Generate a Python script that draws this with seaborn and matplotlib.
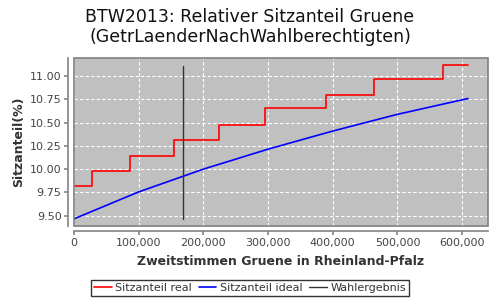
import matplotlib
matplotlib.use("Agg")
import matplotlib.pyplot as plt
import seaborn as sns
import pandas as pd
from matplotlib.ticker import FuncFormatter, MultipleLocator
from matplotlib.patches import Rectangle

# Data
real_x = [0, 28300, 86600, 154000, 223600, 296000, 389000, 463000, 571000, 609000]
real_y = [9.815, 9.985, 10.145, 10.315, 10.48, 10.655, 10.795, 10.97, 11.12, 11.12]
ideal_x = [0, 100000, 200000, 300000, 400000, 500000, 609000]
ideal_y = [9.465, 9.755, 10.0, 10.215, 10.41, 10.59, 10.76]
result_x = [169000, 169000]
result_y = [9.465, 11.115]

title = "BTW2013: Relativer Sitzanteil Gruene\n(GetrLaenderNachWahlberechtigten)"
xlabel = "Zweitstimmen Gruene in Rheinland-Pfalz"
ylabel = "Sitzanteil(%)"
labels = ["Sitzanteil real", "Sitzanteil ideal", "Wahlergebnis"]

sns.set_theme(style="white")
plt.rcParams['font.family'] = ['DejaVu Sans']

fig = plt.figure(figsize=(5, 3), dpi=100)
ax = fig.add_axes([0.148, 0.247, 0.828, 0.559])
ax.set_facecolor("#c0c0c0")

df_real = pd.DataFrame({"x": real_x, "y": real_y})
df_ideal = pd.DataFrame({"x": ideal_x, "y": ideal_y})
df_res = pd.DataFrame({"x": result_x, "y": result_y})

ax.step(df_real["x"], df_real["y"], where="post", color="red", lw=1.2, label=labels[0])
sns.lineplot(data=df_ideal, x="x", y="y", ax=ax, color="blue", lw=1.2, label=labels[1])
sns.lineplot(data=df_res, x="x", y="y", ax=ax, color="#333333", lw=1.0, label=labels[2],
             estimator=None, sort=False)

ax.set_xlim(0, 640000)
ax.set_ylim(9.389, 11.194)
ax.xaxis.set_major_locator(MultipleLocator(100000))
ax.yaxis.set_major_locator(MultipleLocator(0.25))
ax.xaxis.set_major_formatter(FuncFormatter(lambda v, p: f"{int(v):,}"))
ax.yaxis.set_major_formatter(FuncFormatter(lambda v, p: f"{v:.2f}"))
ax.grid(True, color="white", linestyle=(0, (3, 2)), lw=0.8)

for s in ["top", "right"]:
    ax.spines[s].set_visible(False)
for s in ["left", "bottom"]:
    ax.spines[s].set_position(("outward", 4))
    ax.spines[s].set_color("#888888")
ax.add_patch(Rectangle((0, 0), 1, 1, transform=ax.transAxes, fill=False,
                       edgecolor="#808080", lw=1.2, clip_on=False, zorder=5))

ax.tick_params(axis="both", which="major", labelsize=8, labelcolor="#444444",
               color="#888888", length=3, direction="out", bottom=True, left=True, pad=2)
ax.set_xlabel(xlabel, fontsize=9, fontweight="bold", color="#333333", labelpad=5)
ax.set_ylabel(ylabel, fontsize=9, fontweight="bold", color="#333333", labelpad=3)
fig.suptitle(title, fontsize=12.5, y=0.975, color="#111111", linespacing=1.2)

ax.legend().remove()
handles, lbls = ax.get_legend_handles_labels()
leg = fig.legend(handles, lbls, loc="center", bbox_to_anchor=(0.5, 0.04), ncol=3,
                 fontsize=8, frameon=True, fancybox=False, edgecolor="black",
                 handlelength=1.6, handletextpad=0.3, columnspacing=0.6,
                 borderpad=0.3, labelcolor="#333333")
leg.get_frame().set_linewidth(1.0)

fig.savefig("out.png", dpi=100, facecolor="white")
